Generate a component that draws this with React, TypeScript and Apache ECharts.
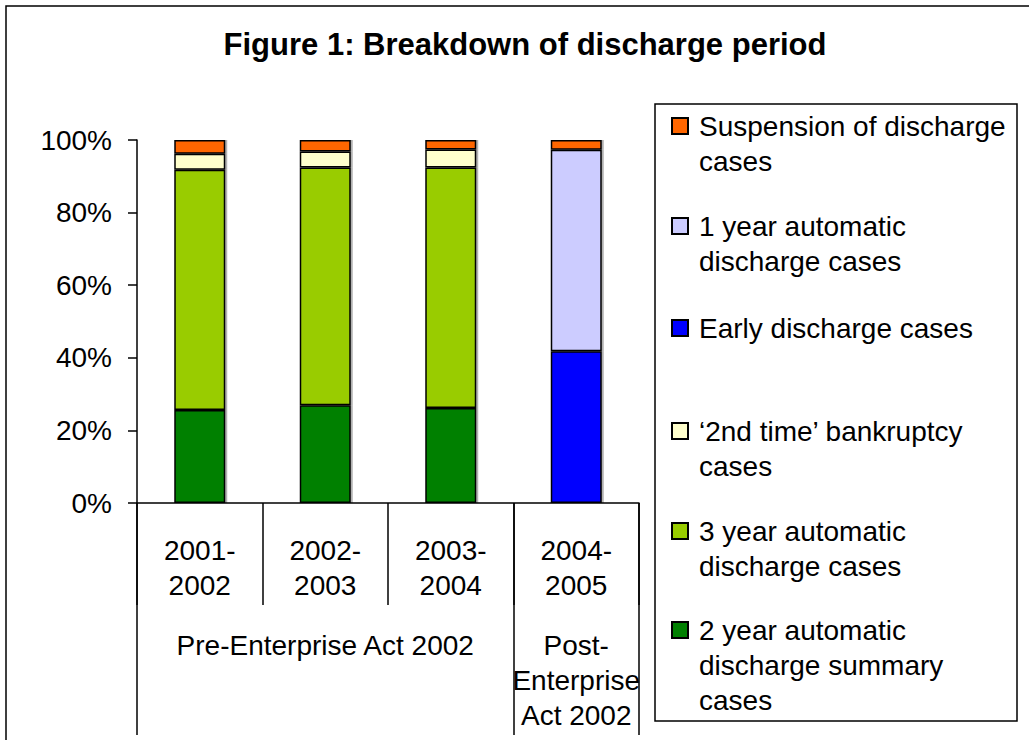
import React, { useEffect, useRef } from "react";
import * as echarts from "echarts";

const categories = ["2001-\n2002", "2002-\n2003", "2003-\n2004", "2004-\n2005"];
const groupLabels = ["", "Pre-Enterprise Act 2002", "", "Post-\nEnterprise\nAct 2002"];
const groupBoundaries = [0, 3];

const seriesNames = [
  "2 year automatic discharge summary cases",
  "3 year automatic discharge cases",
  "'2nd time' bankruptcy cases",
  "Early discharge cases",
  "1 year automatic discharge cases",
  "Suspension of discharge cases",
];
const twoYear = [25.6, 26.9, 26.2, null];
const threeYear = [66.2, 65.5, 66.2, null];
const secondTime = [4.4, 4.4, 5.0, null];
const early = [null, null, null, 41.8];
const oneYear = [null, null, null, 55.5];
const suspension = [3.8, 3.2, 2.6, 2.7];
const seriesColors = ["#008000", "#99CC00", "#FFFFCC", "#0000FF", "#CCCCFF", "#FF6600"];

const legendOrder = [5, 4, 3, 2, 1, 0];
const legendLabels = [
  "Suspension of discharge\ncases",
  "1 year automatic\ndischarge cases",
  "Early discharge cases",
  "\u20182nd time\u2019 bankruptcy\ncases",
  "3 year automatic\ndischarge cases",
  "2 year automatic\ndischarge summary\ncases",
];

const FONT = '"Liberation Sans", Arial, Helvetica, sans-serif';

export default function App() {
  const ref = useRef<HTMLDivElement>(null);
  useEffect(() => {
    document.body.style.margin = "0";
    const chart = echarts.init(ref.current!, null, { renderer: "svg" });
    const values = [twoYear, threeYear, secondTime, early, oneYear, suspension];
    const LH = 35;
    const legendCenters = [126, 226, 328, 431, 531, 630];
    const legends = legendOrder.map((si, i) => {
      const lines = legendLabels[i].split("\n").length;
      const blockH = (2 * lines - 1) * LH;
      const padded = Array(lines - 1).fill(" ").concat([legendLabels[i]]).join("\n");
      return {
        orient: "vertical",
        left: 671,
        top: legendCenters[i] - blockH / 2,
        padding: 0,
        itemWidth: 16,
        itemHeight: 16,
        icon: "rect",
        selectedMode: false,
        data: [seriesNames[si]],
        formatter: () => padded,
        textStyle: {
          fontSize: 28,
          lineHeight: LH,
          color: "#000",
          fontFamily: FONT,
          padding: [0, 0, 0, 6],
        },
      };
    });
    chart.setOption({
      animation: false,
      backgroundColor: "#fff",
      title: {
        text: "Figure 1: Breakdown of discharge period",
        left: 525,
        top: 29,
        padding: 0,
        textAlign: "center",
        textStyle: { fontSize: 31, fontWeight: "bold", color: "#000", fontFamily: FONT },
      },
      legend: legends,
      grid: { left: 137, right: 390, top: 140, bottom: 237, containLabel: false },
      xAxis: [
        {
          type: "category",
          data: categories,
          position: "bottom",
          axisLine: { show: true, lineStyle: { color: "#000", width: 1.5 } },
          axisTick: { show: true, interval: 0, length: 102, lineStyle: { color: "#000", width: 1.5 } },
          axisLabel: {
            interval: 0,
            margin: 30,
            fontSize: 28,
            lineHeight: LH,
            color: "#000",
            fontFamily: FONT,
          },
        },
        {
          type: "category",
          data: categories,
          position: "bottom",
          axisLine: { show: false },
          axisTick: {
            show: true,
            interval: (idx: number) => groupBoundaries.indexOf(idx) >= 0,
            length: 232,
            lineStyle: { color: "#000", width: 1.5 },
          },
          axisLabel: {
            interval: 0,
            margin: 125,
            fontSize: 28,
            lineHeight: LH,
            color: "#000",
            fontFamily: FONT,
            formatter: (_v: string, idx: number) => groupLabels[idx],
          },
        },
      ],
      yAxis: {
        type: "value",
        min: 0,
        max: 100,
        interval: 20,
        axisLine: { show: true, lineStyle: { color: "#000", width: 1.5 } },
        axisTick: { show: true, length: 9, lineStyle: { color: "#000", width: 1.5 } },
        splitLine: { show: false },
        axisLabel: {
          formatter: "{value}%",
          fontSize: 28,
          margin: 25,
          color: "#000",
          fontFamily: FONT,
        },
      },
      series: seriesNames.map((name, i) => ({
        name,
        type: "bar",
        stack: "total",
        barWidth: 51,
        xAxisIndex: 0,
        data: values[i],
        itemStyle: {
          color: seriesColors[i],
          borderColor: "#000",
          borderWidth: 1.5,
          shadowColor: "rgba(0,0,0,0.3)",
          shadowOffsetX: 2,
          shadowOffsetY: 0,
          shadowBlur: 0,
        },
      })),
      graphic: [
        {
          type: "rect",
          shape: { x: 6, y: 6, width: 1200, height: 900 },
          style: { fill: "none", stroke: "#000", lineWidth: 1.5 },
          silent: true,
        },
        {
          type: "rect",
          shape: { x: 655, y: 104, width: 362, height: 617 },
          style: { fill: "none", stroke: "#000", lineWidth: 1.5 },
          silent: true,
        },
      ],
    });
    return () => chart.dispose();
  }, []);
  return <div ref={ref} style={{ width: 1029, height: 740 }} />;
}
